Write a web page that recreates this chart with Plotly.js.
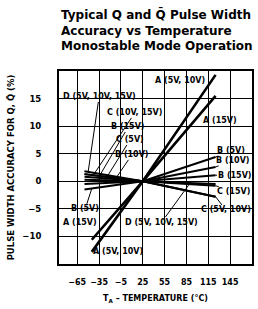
<!DOCTYPE html>
<html>
<head>
<meta charset="utf-8">
<script src="https://cdn.plot.ly/plotly-3.0.1.min.js"></script>
<style>html,body{margin:0;padding:0;background:#fff}#chart{width:258px;height:309px}</style>
</head>
<body>
<div id="chart"></div>
<script>
// ---- data ----
const temps = [-55, 25, 125];
const tempsA = [-45, 25, 125];
const A_5V_10V = [-12.8, 0, 19.3];
const A_15V = [-10.6, 0, 15.5];
const B_5V = [-1.5, 0, 4.4];
const B_10V = [-0.5, 0, 2.6];
const B_15V = [0.8, 0, 1.1];
const C_5V = [0.3, 0, -2.8];
const C_10V = [1.3, 0, -2.8];
const C_15V = [1.3, 0, -0.8];
const D_5V_10V_15V = [1.8, 0, -0.5];
const xTickVals = [-65, -35, -5, 25, 55, 85, 115, 145];
const xTickText = ['−65', '−35', '−5', '25', '55', '85', '115', '145'];
const yTickVals = [-10, -5, 0, 5, 10, 15];
const yTickText = ['−10', '−5', '0', '5', '10', '15'];

const series = [
  {name: 'A (5V, 10V)', x: tempsA, y: A_5V_10V, w: 2.6},
  {name: 'A (15V)', x: tempsA, y: A_15V, w: 2.6},
  {name: 'B (5V)', x: temps, y: B_5V, w: 2},
  {name: 'B (10V)', x: temps, y: B_10V, w: 2},
  {name: 'B (15V)', x: temps, y: B_15V, w: 2},
  {name: 'C (5V)', x: temps, y: C_5V, w: 2},
  {name: 'C (10V)', x: temps, y: C_10V, w: 2},
  {name: 'C (15V)', x: temps, y: C_15V, w: 2},
  {name: 'D (5V, 10V, 15V)', x: temps, y: D_5V_10V_15V, w: 2}
];

function yAt(xs, ys, x) {
  for (let i = 0; i < xs.length - 1; i++) {
    if (x >= xs[i] && x <= xs[i + 1]) {
      const t = (x - xs[i]) / (xs[i + 1] - xs[i]);
      return ys[i] + t * (ys[i + 1] - ys[i]);
    }
  }
  return x < xs[0] ? ys[0] : ys[ys.length - 1];
}

const traces = series.map(s => ({
  type: 'scatter', mode: 'lines', name: s.name, x: s.x, y: s.y,
  line: {color: '#000', width: s.w}, hoverinfo: 'skip'
}));

const FONT = '"DejaVu Sans", "Liberation Sans", Arial, sans-serif';

// label placement (layout): text, label position, series pointed at, temperature of the pointer tip
const labelSpecs = [
  {t: 'A (5V, 10V)', lx: 76, ly: 18.2},
  {t: 'A (15V)', lx: 131, ly: 11.1},
  {t: 'A (15V)', lx: -61, ly: -7.4},
  {t: 'A (5V, 10V)', lx: -9, ly: -12.8},
  {t: 'D (5V, 10V, 15V)', lx: -35, ly: 15.3, s: D_5V_10V_15V, tx: -50},
  {t: 'C (10V, 15V)', lx: 14, ly: 12.4, s: C_10V, tx: -43},
  {t: 'B (15V)', lx: 5, ly: 9.85, s: B_15V, tx: -36},
  {t: 'C (5V)', lx: 7.5, ly: 7.5, s: C_5V, tx: -27},
  {t: 'B (10V)', lx: 10, ly: 4.8, s: B_10V, tx: -16},
  {t: 'B (5V)', lx: 146, ly: 5.5, s: B_5V, tx: 125},
  {t: 'B (10V)', lx: 149, ly: 3.7, s: B_10V, tx: 125},
  {t: 'B (15V)', lx: 151, ly: 1.1, s: B_15V, tx: 125},
  {t: 'C (15V)', lx: 150, ly: -1.9, s: C_15V, tx: 125},
  {t: 'C (5V, 10V)', lx: 139, ly: -5.2, s: C_10V, tx: 125},
  {t: 'D (5V, 10V, 15V)', lx: 51, ly: -7.4, s: D_5V_10V_15V, tx: 90},
  {t: 'B (5V)', lx: -54, ly: -5.0, s: B_5V, tx: -45}
];

const annotations = labelSpecs.map(L => {
  const a = {
    text: '<b>' + L.t + '</b>', font: {size: 8, color: '#000', family: FONT},
    borderpad: 0
  };
  if (L.s) {
    a.x = L.tx; a.y = yAt(temps, L.s, L.tx); a.xref = 'x'; a.yref = 'y';
    a.ax = L.lx; a.ay = L.ly; a.axref = 'x'; a.ayref = 'y';
    a.showarrow = true; a.arrowhead = 0; a.arrowwidth = 1; a.arrowcolor = '#000'; a.standoff = 0;
  } else {
    a.x = L.lx; a.y = L.ly; a.xref = 'x'; a.yref = 'y'; a.showarrow = false;
  }
  return a;
});

const layout = {
  width: 258, height: 309,
  margin: {l: 59, r: 6, t: 71, b: 45, pad: 0},
  paper_bgcolor: '#ffffff', plot_bgcolor: '#ffffff',
  showlegend: false,
  font: {family: FONT, color: '#000'},
  title: {
    text: '<b>Typical Q and Q̄ Pulse Width<br>Accuracy vs Temperature<br>Monostable Mode Operation</b>',
    x: 61 / 258, xanchor: 'left', xref: 'container',
    y: 1 - 19 / 309, yanchor: 'top', yref: 'container',
    font: {size: 12, color: '#000', family: FONT}
  },
  xaxis: {
    range: [-90, 175], tickmode: 'array', tickvals: xTickVals,
    ticktext: xTickText.map(t => '<b>' + t + '</b>'), tickangle: 0,
    showgrid: true, gridcolor: 'black', gridwidth: 1.3, zeroline: false,
    showline: true, mirror: true, linecolor: 'black', linewidth: 2,
    ticks: 'outside', ticklen: 9, tickcolor: 'rgba(0,0,0,0)', tickfont: {size: 8, color: '#000'},
    title: {text: '<b>T<sub>A</sub> – TEMPERATURE (°C)</b>', font: {size: 8, color: '#000'}, standoff: 10}
  },
  yaxis: {
    range: [-15, 20], tickmode: 'array', tickvals: yTickVals,
    ticktext: yTickText.map(t => '<b>' + t + '</b>'),
    showgrid: true, gridcolor: 'black', gridwidth: 1.3, zeroline: false,
    showline: true, mirror: true, linecolor: 'black', linewidth: 2,
    ticks: 'outside', ticklen: 14, tickcolor: 'rgba(0,0,0,0)', tickfont: {size: 8.5, color: '#000'},
    title: {text: '<b>PULSE WIDTH ACCURACY FOR Q, Q̄ (%)</b>', font: {size: 8.5, color: '#000'}, standoff: 6}
  },
  annotations: annotations
};

Plotly.newPlot('chart', traces, layout, {displayModeBar: false});
</script>
</body>
</html>
